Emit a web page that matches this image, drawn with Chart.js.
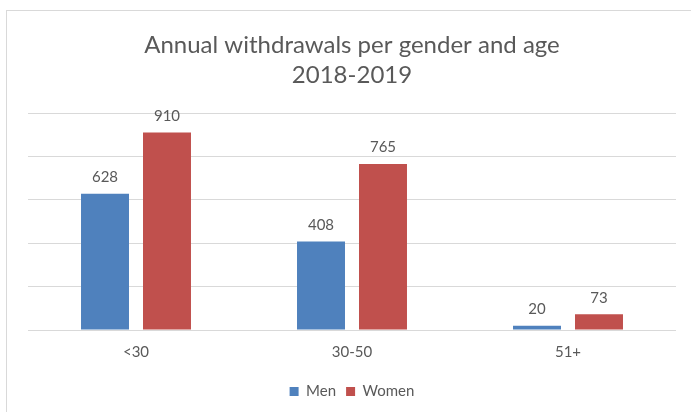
<!DOCTYPE html>
<html>
<head>
<meta charset="utf-8">
<script src="https://cdn.jsdelivr.net/npm/chart.js@4/dist/chart.umd.min.js"></script>
<style>
  html, body { margin: 0; padding: 0; background: #fff; }
  #frame {
    position: absolute; left: 6px; top: 10px; right: 0; bottom: 0;
    border-left: 1px solid #d9d9d9; border-top: 1px solid #d9d9d9;
  }
  #wrap { position: absolute; left: 0; top: 0; width: 691px; height: 412px; }
</style>
</head>
<body>
<div id="frame"></div>
<div id="wrap"><canvas id="withdrawals-chart" width="691" height="412"></canvas></div>
<script>
// chart data
let ageGroups = ['<30', '30-50', '51+'];
let menValues = [628, 408, 20];
let womenValues = [910, 765, 73];
let titleLines = ['Annual withdrawals per gender and age', '2018-2019'];

let colors = {
    blue: '#4F81BD',
    red: '#C0504D',
    text: '#595959',
    grid: '#D9D9D9'
};

// draws the value above each bar
let barValues = {
    id: 'barValues',
    afterDatasetsDraw(chart) {
        let ctx = chart.ctx;
        ctx.save();
        ctx.font = '15px Lato, "Open Sans", sans-serif';
        ctx.fillStyle = colors.text;
        ctx.textAlign = 'center';
        ctx.textBaseline = 'bottom';
        chart.data.datasets.forEach(function (ds, i) {
            chart.getDatasetMeta(i).data.forEach(function (bar, j) {
                ctx.fillText(ds.data[j], bar.x, bar.y - 9);
            });
        });
        ctx.restore();
    }
};

function buildChart() {
    return {
        type: 'bar',
        data: {
            labels: ageGroups,
            datasets: [{
                label: 'Men',
                data: menValues,
                backgroundColor: colors.blue
            }, {
                label: 'Women',
                data: womenValues,
                backgroundColor: colors.red
            }]
        },
        options: {
            responsive: false,
            animation: false,
            categoryPercentage: 0.574,
            barPercentage: 0.774,
            layout: {
                padding: { left: 28, right: 15, top: 22, bottom: 3 }
            },
            scales: {
                x: {
                    grid: { display: false, drawTicks: false },
                    border: { display: false },
                    ticks: {
                        color: colors.text,
                        padding: 13,
                        font: { family: 'Lato, "Open Sans", sans-serif', size: 15 }
                    }
                },
                y: {
                    min: 0,
                    max: 1000,
                    ticks: { display: false, stepSize: 200 },
                    border: { display: false },
                    grid: { color: colors.grid, lineWidth: 1, drawTicks: false }
                }
            },
            plugins: {
                title: {
                    display: true,
                    text: titleLines,
                    color: colors.text,
                    font: { family: 'Lato, "Open Sans", sans-serif', size: 24, weight: 'normal', lineHeight: 1.25 },
                    padding: { top: 8, bottom: 23 }
                },
                legend: {
                    position: 'bottom',
                    labels: {
                        color: colors.text,
                        boxWidth: 9,
                        boxHeight: 9,
                        padding: 10,
                        font: { family: 'Lato, "Open Sans", sans-serif', size: 15 }
                    }
                },
                tooltip: { enabled: false }
            }
        },
        plugins: [barValues]
    };
}

let ctx1 = document.getElementById('withdrawals-chart').getContext('2d');
let chart = new Chart(ctx1, buildChart());
</script>
</body>
</html>
